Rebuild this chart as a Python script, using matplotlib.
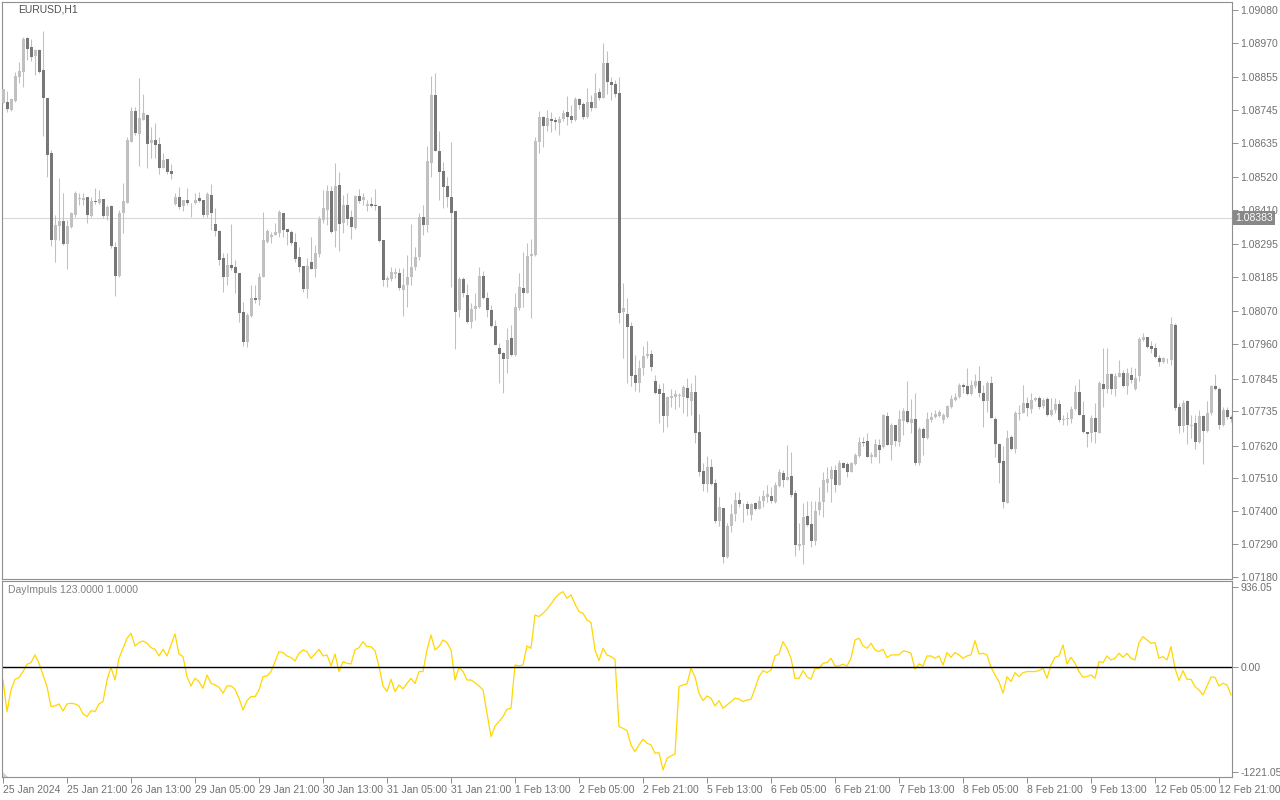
import numpy as np
import matplotlib.pyplot as plt
from matplotlib.patches import Polygon

# EURUSD H1, prices kept in points (0.00001) above 1.07000
BASE = 1.07
PT = 0.00001

open_pts = [
    1769, 1773, 1745, 1776, 1854, 1871, 1986, 1955, 1927, 1946, 1879, 1785, 1602, 1309, 1356, 1373,
    1296, 1354, 1393, 1447, 1443, 1453, 1390, 1440, 1432, 1447, 1389, 1424, 1286, 1189, 1401, 1434,
    1639, 1743, 1666, 1711, 1728, 1633, 1644, 1631, 1549, 1581, 1540, 1430, 1453, 1423, 1443, 1434,
    1432, 1450, 1443, 1393, 1460, 1363, 1339, 1250, 1186, 1226, 1220, 1200, 1068, 969, 1056, 1116,
    1108, 1186, 1304, 1320, 1326, 1334, 1401, 1346, 1337, 1301, 1252, 1222, 1146, 1236, 1213, 1264,
    1376, 1410, 1473, 1341, 1494, 1365, 1427, 1385, 1351, 1457, 1443, 1424, 1430, 1427, 1423, 1309,
    1175, 1178, 1195, 1200, 1142, 1159, 1186, 1218, 1251, 1385, 1360, 1568, 1795, 1608, 1540, 1490,
    1452, 1406, 1073, 1177, 1125, 1036, 1078, 1084, 1189, 1116, 1073, 1022, 948, 930, 909, 980,
    924, 1080, 1150, 1133, 1256, 1259, 1639, 1720, 1692, 1714, 1711, 1700, 1715, 1739, 1725, 1711,
    1782, 1765, 1720, 1771, 1753, 1805, 1786, 1901, 1840, 1832, 1801, 1069, 1061, 1021, 857, 831,
    879, 920, 927, 835, 809, 795, 719, 779, 784, 788, 782, 812, 771, 801, 667, 536,
    492, 550, 496, 369, 412, 248, 351, 391, 438, 425, 425, 388, 429, 409, 436, 449,
    451, 431, 485, 527, 505, 518, 460, 283, 287, 384, 358, 302, 404, 432, 496, 507,
    539, 488, 561, 558, 532, 559, 585, 632, 636, 583, 583, 622, 614, 720, 622, 689,
    633, 704, 736, 697, 710, 561, 676, 644, 706, 715, 720, 706, 715, 751, 773, 782,
    823, 820, 793, 820, 838, 797, 768, 831, 708, 626, 570, 429, 650, 608, 727, 731,
    764, 744, 773, 779, 753, 776, 723, 740, 760, 706, 709, 708, 742, 799, 723, 667,
    664, 714, 664, 827, 810, 860, 810, 851, 865, 821, 857, 810, 854, 974, 985, 954,
    946, 915, 902, 910, 907, 1024, 751, 686, 768, 686, 697, 633, 719, 670, 728, 820,
    809, 689, 740, 717,
]
high_pts = [
    1817, 1810, 1786, 1873, 1907, 1991, 1991, 1983, 1950, 1951, 2010, 1785, 1611, 1393, 1517, 1466,
    1376, 1404, 1473, 1466, 1466, 1454, 1454, 1482, 1477, 1447, 1427, 1427, 1304, 1410, 1499, 1656,
    1754, 1754, 1851, 1798, 1730, 1689, 1700, 1653, 1600, 1581, 1564, 1468, 1488, 1442, 1482, 1434,
    1466, 1471, 1443, 1471, 1497, 1415, 1343, 1265, 1265, 1363, 1242, 1200, 1103, 1064, 1159, 1159,
    1198, 1404, 1345, 1337, 1367, 1410, 1401, 1346, 1343, 1334, 1287, 1222, 1248, 1318, 1293, 1390,
    1477, 1494, 1490, 1566, 1536, 1460, 1466, 1410, 1460, 1479, 1466, 1443, 1452, 1479, 1423, 1309,
    1189, 1218, 1214, 1214, 1214, 1259, 1363, 1287, 1401, 1427, 1624, 1859, 1868, 1675, 1572, 1522,
    1639, 1406, 1186, 1186, 1162, 1097, 1131, 1218, 1206, 1136, 1092, 1041, 963, 935, 1013, 1024,
    1131, 1198, 1270, 1298, 1312, 1656, 1743, 1725, 1745, 1739, 1720, 1725, 1745, 1792, 1762, 1790,
    1784, 1773, 1818, 1795, 1868, 1818, 1968, 1944, 1857, 1845, 1857, 1166, 1114, 1036, 924, 907,
    954, 971, 941, 857, 827, 829, 786, 809, 807, 798, 823, 846, 829, 857, 726, 561,
    585, 576, 507, 449, 412, 360, 425, 463, 463, 427, 436, 429, 432, 451, 471, 488,
    483, 499, 541, 538, 622, 600, 471, 360, 427, 436, 436, 436, 480, 533, 550, 552,
    555, 572, 566, 566, 566, 594, 650, 648, 661, 600, 641, 641, 726, 734, 697, 689,
    740, 745, 838, 775, 798, 682, 682, 734, 734, 740, 740, 729, 756, 790, 798, 831,
    829, 879, 840, 860, 887, 823, 835, 854, 715, 628, 619, 673, 656, 737, 756, 823,
    782, 795, 784, 786, 779, 782, 779, 779, 773, 723, 734, 753, 823, 842, 768, 667,
    723, 762, 835, 946, 946, 865, 862, 907, 874, 879, 885, 879, 983, 996, 985, 972,
    965, 924, 918, 913, 1050, 1030, 762, 773, 773, 723, 723, 740, 723, 768, 823, 860,
    815, 749, 749, 723,
]
low_pts = [
    1767, 1739, 1743, 1773, 1834, 1823, 1912, 1910, 1862, 1868, 1659, 1521, 1289, 1237, 1309, 1293,
    1213, 1348, 1388, 1427, 1427, 1367, 1385, 1430, 1430, 1382, 1376, 1281, 1122, 1186, 1334, 1432,
    1639, 1661, 1558, 1711, 1549, 1583, 1583, 1530, 1549, 1530, 1515, 1426, 1412, 1408, 1427, 1388,
    1430, 1438, 1388, 1385, 1343, 1323, 1226, 1136, 1159, 1209, 1133, 1036, 954, 952, 1052, 1097,
    1092, 1186, 1298, 1298, 1325, 1320, 1318, 1293, 1293, 1237, 1203, 1136, 1114, 1213, 1186, 1253,
    1365, 1360, 1334, 1287, 1274, 1332, 1360, 1312, 1345, 1432, 1427, 1408, 1421, 1410, 1304, 1155,
    1153, 1173, 1181, 1142, 1055, 1086, 1159, 1209, 1242, 1326, 1337, 1522, 1609, 1443, 1415, 1421,
    1153, 943, 1050, 1119, 1030, 1013, 1041, 1080, 1110, 1050, 1019, 957, 831, 795, 863, 921,
    921, 1075, 1084, 1131, 1047, 1256, 1602, 1622, 1676, 1672, 1678, 1661, 1709, 1695, 1700, 1709,
    1747, 1714, 1717, 1743, 1751, 1778, 1784, 1799, 1778, 1790, 1032, 913, 829, 820, 804, 801,
    857, 913, 871, 793, 697, 667, 684, 748, 742, 748, 728, 719, 722, 630, 518, 469,
    466, 488, 360, 349, 228, 242, 332, 369, 416, 365, 388, 371, 405, 407, 416, 432,
    429, 429, 480, 480, 505, 449, 250, 270, 224, 351, 279, 287, 388, 382, 463, 432,
    466, 488, 544, 514, 530, 555, 583, 619, 581, 563, 581, 563, 611, 622, 572, 619,
    619, 656, 695, 664, 555, 555, 589, 641, 700, 712, 717, 695, 712, 745, 771, 779,
    798, 790, 790, 812, 784, 682, 734, 712, 583, 496, 410, 427, 606, 594, 706, 729,
    720, 728, 768, 742, 745, 720, 720, 728, 700, 689, 689, 697, 740, 723, 661, 614,
    633, 628, 664, 749, 795, 793, 787, 849, 818, 793, 829, 807, 838, 972, 946, 929,
    913, 887, 896, 896, 890, 740, 664, 667, 626, 645, 608, 628, 559, 667, 723, 807,
    675, 686, 708, 700,
]
close_pts = [
    1814, 1750, 1783, 1860, 1876, 1983, 1950, 1924, 1947, 1873, 1786, 1594, 1309, 1359, 1373, 1296,
    1356, 1399, 1468, 1449, 1449, 1393, 1440, 1437, 1447, 1390, 1420, 1289, 1189, 1401, 1439, 1644,
    1743, 1667, 1718, 1735, 1631, 1644, 1629, 1552, 1577, 1538, 1530, 1454, 1421, 1442, 1432, 1432,
    1445, 1441, 1393, 1463, 1399, 1341, 1242, 1186, 1226, 1217, 1200, 1064, 969, 1058, 1116, 1108,
    1186, 1309, 1339, 1326, 1335, 1403, 1343, 1336, 1300, 1247, 1220, 1146, 1222, 1213, 1265, 1380,
    1415, 1473, 1337, 1490, 1363, 1427, 1380, 1354, 1457, 1441, 1452, 1430, 1424, 1424, 1307, 1175,
    1183, 1203, 1203, 1148, 1160, 1186, 1220, 1251, 1385, 1360, 1574, 1795, 1609, 1538, 1488, 1455,
    1399, 1069, 1177, 1133, 1036, 1078, 1088, 1189, 1114, 1073, 1022, 957, 927, 911, 974, 924,
    1086, 1153, 1133, 1256, 1262, 1641, 1720, 1692, 1717, 1708, 1706, 1715, 1736, 1723, 1711, 1781,
    1762, 1723, 1771, 1753, 1801, 1786, 1901, 1840, 1828, 1799, 1066, 1080, 1019, 855, 831, 879,
    920, 927, 885, 798, 793, 719, 784, 786, 792, 791, 818, 779, 801, 664, 533, 492,
    550, 492, 369, 416, 248, 351, 391, 438, 425, 423, 409, 425, 409, 436, 451, 458,
    436, 488, 533, 505, 516, 455, 287, 290, 382, 354, 302, 401, 432, 505, 507, 539,
    488, 563, 546, 530, 563, 589, 632, 630, 583, 589, 626, 606, 723, 622, 689, 637,
    710, 737, 699, 710, 563, 676, 644, 710, 717, 726, 734, 723, 753, 775, 784, 823,
    818, 793, 823, 838, 795, 768, 829, 712, 626, 563, 432, 645, 608, 729, 731, 762,
    745, 773, 781, 749, 773, 723, 740, 760, 706, 709, 709, 742, 799, 723, 667, 659,
    714, 667, 831, 810, 860, 810, 854, 865, 821, 862, 840, 846, 977, 985, 952, 944,
    916, 902, 913, 909, 1028, 745, 686, 764, 689, 690, 633, 719, 670, 728, 820, 809,
    689, 740, 717, 708,
]

# DayImpuls(123, 1) indicator values, one per bar
impulse = [
    -148, -516, -264, -140, -120, -50, 35, 54, 144, 47, -89, -225, -458, -450, -427, -509,
    -427, -419, -427, -450, -544, -575, -505, -516, -427, -400, -148, 0, -148, 105, 221, 338,
    396, 249, 287, 307, 280, 229, 210, 132, 210, 132, 260, 388, 155, 124, -109, -217,
    -128, -167, -245, -89, -186, -206, -233, -303, -217, -217, -256, -361, -497, -388, -342, -342,
    -264, -109, -101, -50, 66, 183, 171, 132, 113, 74, 163, 202, 183, 105, 155, 210,
    132, 144, 16, 155, -50, 66, 47, 39, 202, 229, 299, 241, 241, 194, 8, -217,
    -283, -140, -283, -206, -252, -186, -128, -190, -50, -50, 202, 377, 202, 241, 318, 287,
    202, -148, 0, -50, -148, -148, -179, -217, -264, -536, -808, -683, -633, -575, -489, -478,
    27, 16, 27, 249, 221, 610, 590, 629, 676, 738, 804, 854, 881, 804, 843, 738,
    648, 629, 551, 520, 202, 78, 221, 144, 124, 93, -691, -711, -738, -905, -982, -905,
    -839, -885, -905, -1002, -994, -1196, -1060, -1033, -1010, -225, -206, -194, -12, -109, -303, -388,
    -334, -361, -450, -388, -478, -439, -400, -361, -369, -400, -381, -373, -245, -109, -39, -62,
    -31, 132, 155, 299, 221, 105, -128, -128, -39, -109, -140, -12, -12, 47, 54, 105,
    16, 16, 35, 16, 105, 318, 338, 249, 221, 280, 202, 183, 210, 113, 144, 144,
    144, 190, 183, 163, -23, 39, 16, 132, 132, 105, 132, 27, 171, 116, 171, 144,
    105, 132, 144, 311, 155, 163, 144, 0, -89, -167, -303, -109, -167, -62, -109, -62,
    -50, -50, -50, -39, -12, -128, 27, 116, 132, 260, 39, 116, 47, -50, -116, -109,
    -89, -128, 66, 54, 132, 85, 105, 163, 116, 163, 105, 85, 287, 357, 318, 280,
    287, 105, 124, 85, 241, -12, -155, -39, -140, -140, -225, -264, -322, -217, -116, -116,
    -217, -186, -206, -322,
]

# a label every 16 bars
time_labels = ["25 Jan 2024", "25 Jan 21:00", "26 Jan 13:00", "29 Jan 05:00", "29 Jan 21:00",
               "30 Jan 13:00", "31 Jan 05:00", "31 Jan 21:00", "1 Feb 13:00", "2 Feb 05:00",
               "2 Feb 21:00", "5 Feb 13:00", "6 Feb 05:00", "6 Feb 21:00", "7 Feb 13:00",
               "8 Feb 05:00", "8 Feb 21:00", "9 Feb 13:00", "12 Feb 05:00", "12 Feb 21:00"]
price_ticks = [1.09080, 1.08970, 1.08855, 1.08745, 1.08635, 1.08520, 1.08410, 1.08295, 1.08185,
               1.08070, 1.07960, 1.07845, 1.07735, 1.07620, 1.07510, 1.07400, 1.07290, 1.07180]
impulse_ticks = [936.05, 0.0, -1221.05]
last_price = 1.08383

opens = BASE + np.array(open_pts) * PT
highs = BASE + np.array(high_pts) * PT
lows = BASE + np.array(low_pts) * PT
closes = BASE + np.array(close_pts) * PT
x = np.arange(len(closes))

BULL = "#c0c0c0"
BEAR = "#777777"
FRAME = "#8f8f8f"
TXT = "#707070"

plt.rcParams["font.family"] = ["Liberation Sans", "DejaVu Sans"]
fig = plt.figure(figsize=(12.8, 8), dpi=100)
W, H = 1280, 800
ax = fig.add_axes([2 / W, 1 - 579 / H, 1230 / W, 577 / H])
ax2 = fig.add_axes([2 / W, 1 - 777 / H, 1230 / W, 196 / H])

# candles
up = closes >= opens
ax.vlines(x, lows, highs, color=BULL, lw=0.75, zorder=2)
body_lo = np.minimum(opens, closes)
body_h = np.maximum(np.abs(closes - opens), 2.5 * PT)
ax.bar(x[up], body_h[up], bottom=body_lo[up], width=0.75, color=BULL, linewidth=0, zorder=3)
ax.bar(x[~up], body_h[~up], bottom=body_lo[~up], width=0.75, color=BEAR, linewidth=0, zorder=3)

ax.axhline(last_price, color="#d9d9d9", lw=0.8, zorder=1)
ax.annotate(f"{last_price:.5f}", xy=(1.0, last_price), xycoords=("axes fraction", "data"),
            xytext=(2.5, 0), textcoords="offset points", va="center", ha="left",
            fontsize=7.5, color="white", annotation_clip=False, zorder=10,
            bbox=dict(boxstyle="square,pad=0.2", fc="#888888", ec="none"))

ax.set_xlim(-0.25, 307.25)
ax.set_ylim(1.07173, 1.09107)
ax.set_xticks([])
ax.yaxis.tick_right()
ax.set_yticks(price_ticks)
ax.set_yticklabels([f"{v:.5f}" for v in price_ticks])
ax.tick_params(axis="y", direction="out", length=4, width=0.7, colors=FRAME,
               labelcolor=TXT, labelsize=7.5, pad=2)
for s in ax.spines.values():
    s.set_color(FRAME)
    s.set_linewidth(0.8)

# indicator panel
ax2.plot(x, impulse, color="#ffd700", lw=0.9)
ax2.axhline(0, color="black", lw=1.0)
ax2.set_xlim(-0.25, 307.25)
ax2.set_ylim(-1278, 1005)
ax2.yaxis.tick_right()
ax2.set_yticks(impulse_ticks)
ax2.set_yticklabels([f"{v:.2f}" for v in impulse_ticks])
ax2.set_xticks(np.arange(len(time_labels)) * 16)
ax2.set_xticklabels(time_labels, ha="left")
ax2.tick_params(axis="both", direction="out", length=4, width=0.7, colors=FRAME,
                labelcolor=TXT, labelsize=7.5, pad=2)
for s in ax2.spines.values():
    s.set_color(FRAME)
    s.set_linewidth(0.8)
ax2.add_patch(Polygon([[0, 0], [0.005, 0], [0, 0.03]], closed=True, transform=ax2.transAxes,
                      color="#d4d4d4", lw=0, clip_on=False))

fig.text(18 / W, 1 - 10 / H, "EURUSD,H1", fontsize=7.5, color="#505050", va="center")
fig.text(8 / W, 1 - 590 / H, "DayImpuls 123.0000 1.0000", fontsize=7.5, color="#808080", va="center")

fig.savefig("out.png", dpi=100, facecolor="white")
